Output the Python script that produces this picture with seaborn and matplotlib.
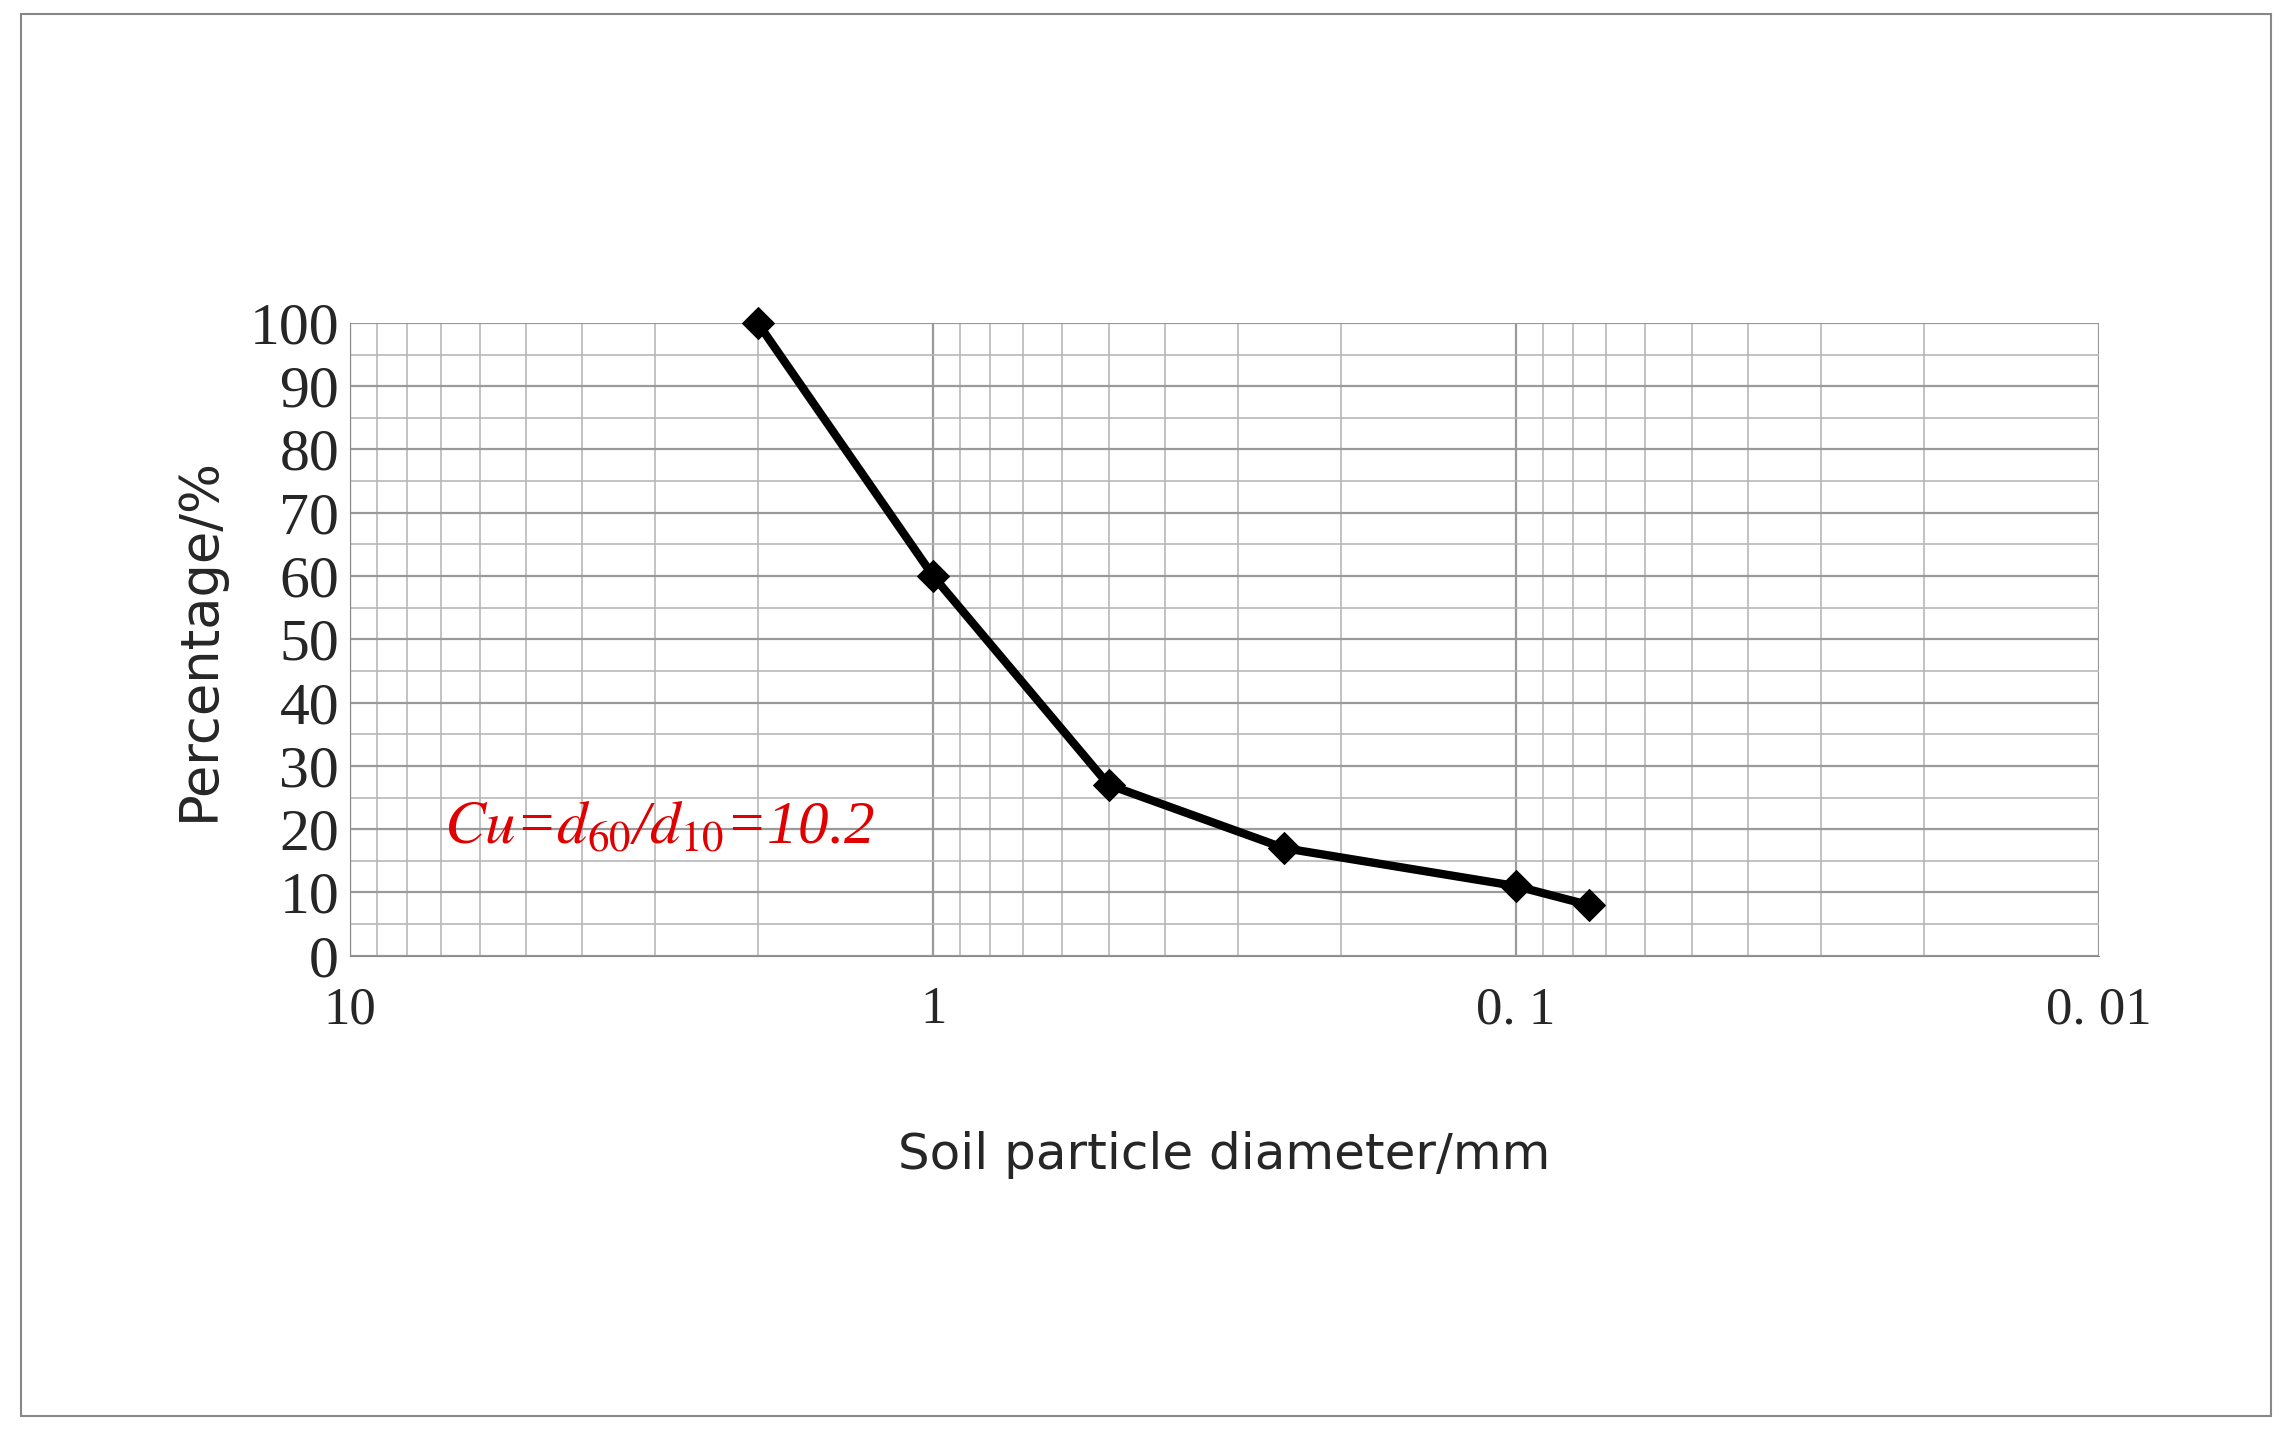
import matplotlib
matplotlib.use("Agg")
import matplotlib.pyplot as plt
from matplotlib.patches import Rectangle
from matplotlib.ticker import FixedLocator, LogLocator, MultipleLocator, NullFormatter
import pandas as pd
import seaborn as sns

# ─── Data ─────────────────────────────────────────────────────────────────────
diameter_mm = [2.0, 1.0, 0.5, 0.25, 0.1, 0.075]
percent_finer = [100, 60, 27, 17, 11, 8]
x_ticks = [10, 1, 0.1, 0.01]
x_tick_labels = ["10", "1", "0. 1", "0. 01"]
y_ticks = list(range(0, 101, 10))

df = pd.DataFrame({"d": diameter_mm, "p": percent_finer})

sns.set_style("white")
plt.rcParams["font.family"] = ["DejaVu Sans"]
plt.rcParams["mathtext.fontset"] = "stix"

fig = plt.figure(figsize=(22.89, 14.35), dpi=100)
ax = fig.add_axes([0.153, 0.334, 0.764, 0.441])

# outer frame around the whole chart
fig.patches.append(Rectangle((0.009, 0.013), 0.983, 0.977, transform=fig.transFigure,
                             fill=False, edgecolor="#888888", lw=1.5))

sns.lineplot(data=df, x="d", y="p", ax=ax, color="black", lw=6,
             marker="D", markersize=16, markeredgecolor="black", sort=False,
             clip_on=False, zorder=5)

ax.set_xscale("log")
ax.set_xlim(10, 0.01)
ax.set_ylim(0, 100)

ax.xaxis.set_major_locator(FixedLocator(x_ticks))
ax.set_xticklabels(x_tick_labels, fontsize=38, family="Liberation Serif")
ax.xaxis.set_minor_locator(LogLocator(base=10, subs=range(2, 10)))
ax.xaxis.set_minor_formatter(NullFormatter())
ax.yaxis.set_major_locator(FixedLocator(y_ticks))
ax.yaxis.set_minor_locator(MultipleLocator(5))
ax.set_yticklabels([str(v) for v in y_ticks], fontsize=43, family="Liberation Serif")

ax.grid(which="major", color="#9a9a9a", lw=1.6)
ax.grid(which="minor", color="#b8b8b8", lw=1.2)
ax.tick_params(axis="both", which="both", length=0, pad=8)
ax.tick_params(axis="x", pad=22)
for side, sp in ax.spines.items():
    sp.set_visible(side in ("left", "bottom"))
    sp.set_color("#888888")

ax.set_xlabel("Soil particle diameter/mm", fontsize=36, labelpad=70)
ax.set_ylabel("Percentage/%", fontsize=38, labelpad=18)

ax.text(6.9, 20, r"$Cu$=$d_{60}$/$d_{10}$=10.2", color="#e00000", fontsize=44,
        family="Liberation Serif", style="italic", ha="left", va="center")

fig.savefig("out.png", dpi=100)
